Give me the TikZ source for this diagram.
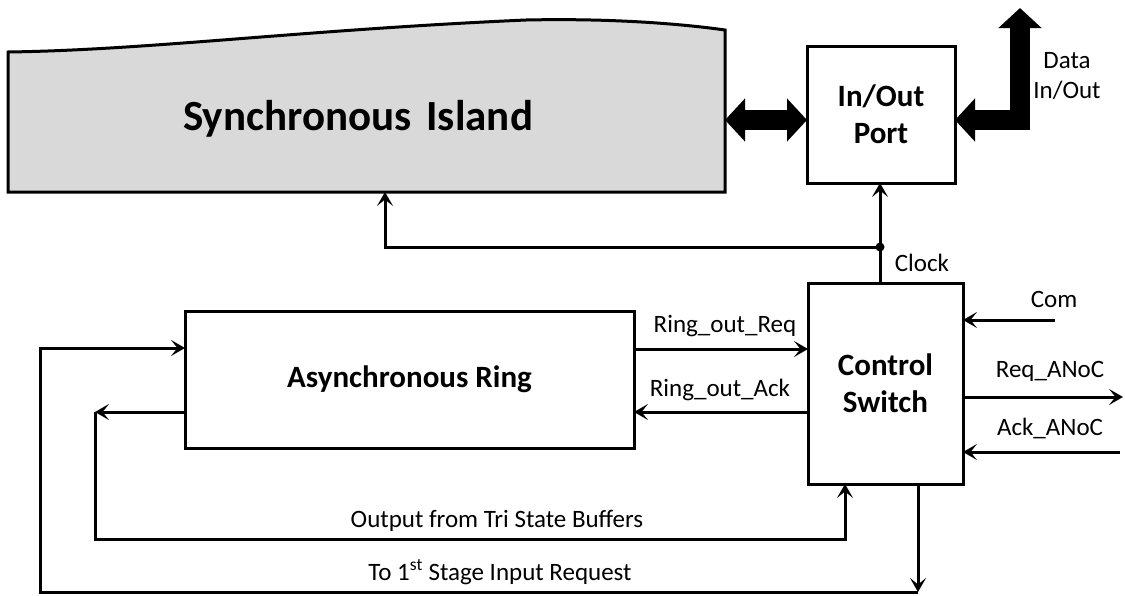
\documentclass[tikz,border=0pt]{standalone}
\usepackage{fontspec}
\setmainfont{Carlito}
\usetikzlibrary{arrows.meta,calc}
\begin{document}
\begin{tikzpicture}[x=1pt,y=-1pt,
  box/.style={draw,line width=3pt,inner sep=0pt,outer sep=0pt,align=center,
    font=\fontsize{31}{37}\selectfont\bfseries},
  lab/.style={anchor=base,inner sep=0pt,font=\fontsize{25}{30}\selectfont,align=center},
  sig/.style={line width=3pt,-{Stealth[length=14pt,width=16pt,inset=6.5pt]}},
  fat/.style={line width=20pt,line join=miter,
    {Triangle[length=20pt,width=42pt]}-{Triangle[length=20pt,width=42pt]}}
]
\useasboundingbox (0,0) rectangle (1125,595);

% Synchronous island
\filldraw[fill=black!15,draw=black,line width=3pt,line join=miter]
  (8,52) .. controls (150,50) and (300,30) .. (526,20)
  .. controls (620,18) and (690,25) .. (725,30) -- (725,192) -- (8,192) -- cycle;
\node[anchor=base,inner sep=0pt,font=\fontsize{43}{50}\selectfont\bfseries] (isltext) at (358,130) {Synchronous\hspace{0.12em} Island};
\coordinate (islE) at (725,120);
\coordinate (islB) at (385,192);

% Boxes
\node[box,minimum width=148pt,minimum height=137pt] (port) at (881,114.5) {In/Out\\Port};
\node[box,minimum width=155pt,minimum height=201pt] (sw) at (885.5,383.5) {Control\\Switch};
\node[box,minimum width=449pt,minimum height=137pt] (ring) at (409.5,379.5) {Asynchronous Ring};

% Fat data arrows
\coordinate (dcorner) at (1020,120);
\coordinate (dtop) at (1020,8);
\draw[fat] (islE) -- (islE -| port.west);
\draw[fat] (islE -| port.east) -- (dcorner) -- (dtop);
\node[lab] (data) at (1067,98) {Data\\In/Out};

% Clock
\coordinate (clk) at (880,247);
\draw[sig] (clk |- sw.north) -- (clk |- port.south);
\draw[sig] (clk) -| (islB);
\fill (clk) circle (4.5pt);
\node[lab] (clklab) at (922,271) {Clock};

% Ring <-> switch
\draw[sig] (ring.east |- 0,349) -- (sw.west |- 0,349);
\draw[sig] (sw.west |- 0,412) -- (ring.east |- 0,412);
\node[lab] (rreq) at (725,332) {Ring\_out\_Req};
\node[lab] (rack) at (720,396) {Ring\_out\_Ack};

% Right side signals
\coordinate (comS) at (1055,320);
\coordinate (reqE) at (1123,397);
\coordinate (ackS) at (1120,452);
\draw[sig] (comS) -- (sw.east |- comS);
\draw[sig] (sw.east |- reqE) -- (reqE);
\draw[sig] (ackS) -- (sw.east |- ackS);
\node[lab] (comlab) at (1054,307) {Com};
\node[lab] (reqlab) at (1050,377) {Req\_ANoC};
\node[lab] (acklab) at (1050,435) {Ack\_ANoC};

% Output from tri state buffers
\coordinate (c1) at (95,412);
\coordinate (c2) at (845,539);
\draw[sig] (ring.west |- c1) -- (c1);
\draw[sig,line join=miter] (c1) |- (c2) -- (c2 |- sw.south);
\node[lab] (outlab) at (497,527) {Output from Tri State Buffers};

% To first stage input request
\coordinate (c3) at (918,592);
\coordinate (c4) at (40,348);
\draw[sig] (sw.south -| c3) -- (c3);
\draw[sig,line join=miter] (c3) -| (c4) -- (ring.west |- c4);
\node[lab] (stlab) at (500,580) {To 1\textsuperscript{st} Stage Input Request};
\end{tikzpicture}
\end{document}
